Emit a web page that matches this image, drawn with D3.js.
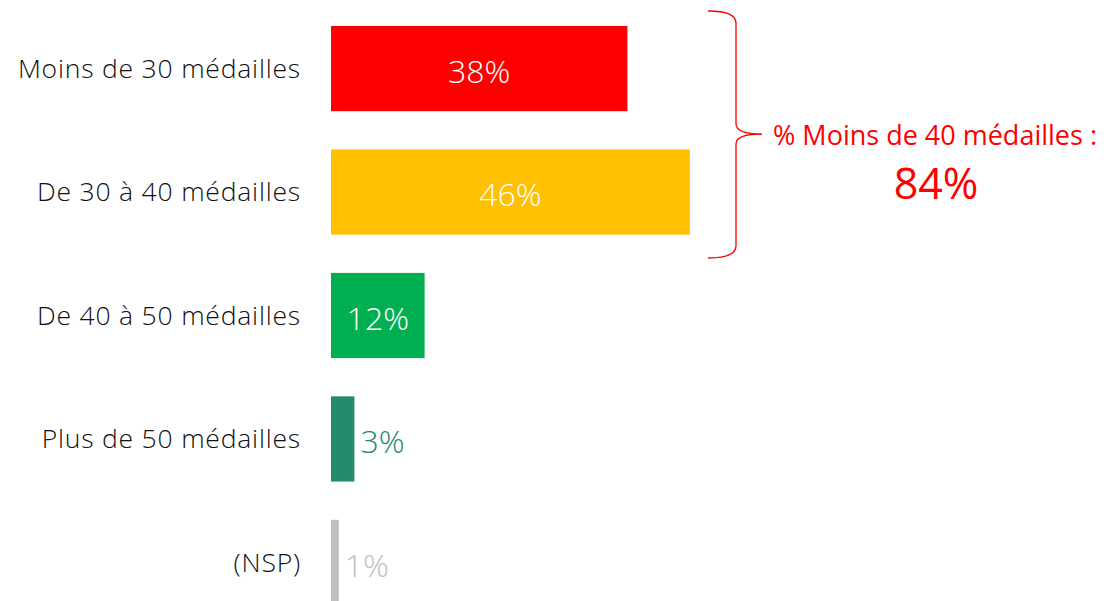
<!DOCTYPE html>
<html>
<head>
<meta charset="utf-8">
<script src="https://cdn.jsdelivr.net/npm/d3@7"></script>
<style>
  body { margin: 0; background: #fff; }
  text { font-family: "Open Sans", "Segoe UI", sans-serif; }
</style>
</head>
<body>
<div id="chart"></div>
<script>
// Data
var categories = ["Moins de 30 médailles", "De 30 à 40 médailles", "De 40 à 50 médailles", "Plus de 50 médailles", "(NSP)"];
var values = [38, 46, 12, 3, 1];
var colors = ["#FF0000", "#FFC000", "#00B050", "#258A6E", "#BFBFBF"];
var labelInside = [true, true, true, false, false];
var bracketText = "% Moins de 40 médailles :";
var bracketValue = "84%";

var width = 1107, height = 601;

var svg = d3.select("#chart").append("svg")
    .attr("width", width)
    .attr("height", height);

// Scales
var x = d3.scaleLinear().domain([0, 100]).range([331, 1111]);
var y = d3.scaleBand().domain(categories).range([26, 605]).paddingInner(0.31).paddingOuter(0);

// Bars
svg.selectAll(".bar")
    .data(categories)
    .enter().append("rect")
    .attr("class", "bar")
    .attr("x", x(0))
    .attr("y", function (d) { return y(d); })
    .attr("width", function (d, i) { return x(values[i]) - x(0); })
    .attr("height", y.bandwidth())
    .attr("fill", function (d, i) { return colors[i]; });

// Category labels
svg.selectAll(".cat")
    .data(categories)
    .enter().append("text")
    .attr("class", "cat")
    .attr("x", 301)
    .attr("y", function (d) { return y(d) + y.bandwidth() / 2; })
    .attr("dy", "0.35em")
    .attr("text-anchor", "end")
    .style("font-size", "26.5px")
    .style("font-weight", 300)
    .style("letter-spacing", "0.8px")
    .attr("fill", "#111")
    .text(function (d) { return d; });

// Value labels
svg.selectAll(".val")
    .data(categories)
    .enter().append("text")
    .attr("class", "val")
    .attr("x", function (d, i) {
        return labelInside[i] ? (x(0) + x(values[i])) / 2 : x(values[i]) + 6;
    })
    .attr("y", function (d) { return y(d) + y.bandwidth() / 2 + 3; })
    .attr("dy", "0.35em")
    .attr("text-anchor", function (d, i) { return labelInside[i] ? "middle" : "start"; })
    .style("font-size", "32px")
    .style("font-weight", 300)
    .attr("fill", function (d, i) { return labelInside[i] ? "#ffffff" : colors[i]; })
    .text(function (d, i) { return values[i] + "%"; });

// Bracket around first two bars
var bTop = 11, bBottom = 258, bMid = 134, bx = 736, bTip = 762;
var path = d3.path();
path.moveTo(708, bTop);
path.quadraticCurveTo(bx, bTop, bx, bTop + 12);
path.lineTo(bx, bMid - 10);
path.quadraticCurveTo(bx, bMid, bTip, bMid);
path.quadraticCurveTo(bx, bMid, bx, bMid + 10);
path.lineTo(bx, bBottom - 12);
path.quadraticCurveTo(bx, bBottom, 708, bBottom);
svg.append("path")
    .attr("d", path.toString())
    .attr("fill", "none")
    .attr("stroke", "#FF0000")
    .attr("stroke-width", 1.3);

svg.append("text")
    .attr("x", 935)
    .attr("y", 136)
    .attr("dy", "0.35em")
    .attr("text-anchor", "middle")
    .style("font-size", "27px")
    .attr("fill", "#FF0000")
    .text(bracketText);

svg.append("text")
    .attr("x", 936)
    .attr("y", 184)
    .attr("dy", "0.35em")
    .attr("text-anchor", "middle")
    .style("font-size", "43px")
    .attr("fill", "#FF0000")
    .text(bracketValue);
</script>
</body>
</html>
